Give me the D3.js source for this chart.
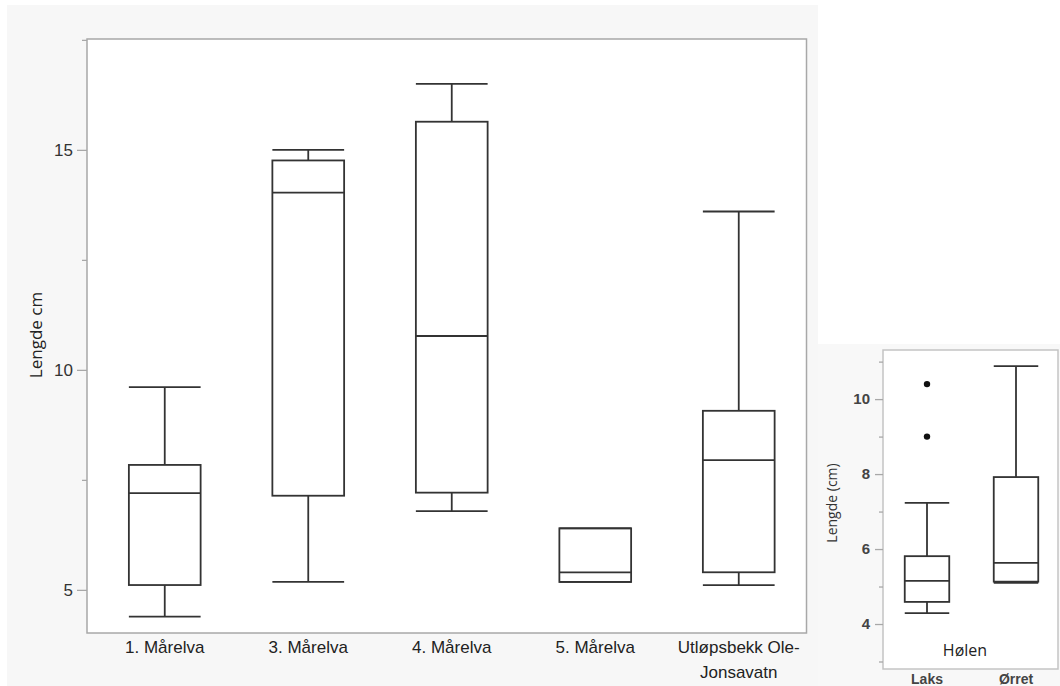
<!DOCTYPE html>
<html>
<head>
<meta charset="utf-8">
<script src="https://cdn.jsdelivr.net/npm/d3@7"></script>
<style>
  body { margin: 0; background: #fff; }
  svg { display: block; font-family: "Open Sans", "Noto Sans", sans-serif; }
  .frame { fill: #fff; stroke: #a8a8a8; stroke-width: 1.5; }
  .box line, .box rect { stroke: #333; stroke-width: 1.8; fill: none; }
  .yax path { display: none; }
  .yax line { stroke: #a8a8a8; stroke-width: 1.3; }
  .yax text { fill: #333; }
  .xax path, .xax line { display: none; }
  .xax text { fill: #222; }
</style>
</head>
<body>
<svg id="chart" width="1060" height="686"></svg>
<script>
// main chart data (Lengde cm per site)
var sites = ["1. Mårelva", "3. Mårelva", "4. Mårelva", "5. Mårelva", "Utløpsbekk Ole-Jonsavatn"];
var siteMin = [4.39, 5.18, 6.79, 5.18, 5.11];
var siteQ1  = [5.11, 7.14, 7.21, 5.18, 5.40];
var siteMed = [7.20, 14.03, 10.77, 5.40, 7.95];
var siteQ3  = [7.84, 14.76, 15.64, 6.40, 9.07];
var siteMax = [9.61, 15.00, 16.50, 6.40, 13.60];
var mainTicks = [5, 10, 15];
var mainMinor = [7.5, 12.5, 17.5];

// small chart data (Hølen)
var species = ["Laks", "Ørret"];
var fishMin = [4.29, 5.10];
var fishQ1  = [4.59, 5.13];
var fishMed = [5.15, 5.63];
var fishQ3  = [5.81, 7.92];
var fishMax = [7.23, 10.88];
var fishOut = [[10.4, 9.0], []];
var smallTicks = [4, 6, 8, 10];
var smallMinor = [3, 5, 7, 9, 11];

var svg = d3.select("#chart");

function drawBoxes(g, cats, mins, q1s, meds, q3s, maxs, x, y) {
  var bw = x.bandwidth() * 0.5;
  var boxes = g.selectAll("g.box")
      .data(cats)
      .enter()
      .append("g")
      .attr("class", "box")
      .attr("transform", function(d) { return "translate(" + (x(d) + x.bandwidth()/2) + ",0)"; });
  // whiskers
  boxes.append("line")
      .attr("x1", 0).attr("x2", 0)
      .attr("y1", function(d,i) { return y(maxs[i]); })
      .attr("y2", function(d,i) { return y(q3s[i]); });
  boxes.append("line")
      .attr("x1", 0).attr("x2", 0)
      .attr("y1", function(d,i) { return y(q1s[i]); })
      .attr("y2", function(d,i) { return y(mins[i]); });
  // caps
  boxes.append("line")
      .attr("x1", -bw/2).attr("x2", bw/2)
      .attr("y1", function(d,i) { return y(maxs[i]); })
      .attr("y2", function(d,i) { return y(maxs[i]); });
  boxes.append("line")
      .attr("x1", -bw/2).attr("x2", bw/2)
      .attr("y1", function(d,i) { return y(mins[i]); })
      .attr("y2", function(d,i) { return y(mins[i]); });
  boxes.append("rect")
      .attr("x", -bw/2)
      .attr("width", bw)
      .attr("y", function(d,i) { return y(q3s[i]); })
      .attr("height", function(d,i) { return y(q1s[i]) - y(q3s[i]); });
  boxes.append("line")
      .attr("x1", -bw/2).attr("x2", bw/2)
      .attr("y1", function(d,i) { return y(meds[i]); })
      .attr("y2", function(d,i) { return y(meds[i]); });
  return boxes;
}

/////////////////////////////////////////////////////////////////////////////
// main panel
svg.append("rect")
    .attr("x", 7).attr("y", 5)
    .attr("width", 811).attr("height", 681)
    .style("fill", "#f7f7f7");

var mTop = 39, mBottom = 633, mLeft = 87, mRight = 806.5;
var y1 = d3.scaleLinear().domain([4.02, 17.52]).range([mBottom, mTop]);
var x1 = d3.scaleBand().domain(sites).range([93, 810.5]);

svg.append("rect")
    .attr("class", "frame")
    .attr("x", mLeft).attr("y", mTop)
    .attr("width", mRight - mLeft).attr("height", mBottom - mTop);

svg.append("g")
    .attr("class", "yax")
    .attr("transform", "translate(" + mLeft + ",0)")
    .call(d3.axisLeft(y1).tickValues(mainMinor).tickSize(5).tickFormat(""));
svg.append("g")
    .attr("class", "yax")
    .attr("transform", "translate(" + mLeft + ",0)")
    .call(d3.axisLeft(y1).tickValues(mainTicks).tickSize(10).tickPadding(4))
    .selectAll("text")
    .style("font-size", "17px");

var xg = svg.append("g")
    .attr("class", "xax")
    .attr("transform", "translate(0," + mBottom + ")")
    .call(d3.axisBottom(x1).tickSize(0).tickPadding(8));
xg.selectAll("text")
    .style("font-size", "17px")
    .each(function(d) {
      var parts = d.split(/(?<=-)/);
      if (parts.length > 1) {
        var t = d3.select(this).text(null);
        parts.forEach(function(p, i) {
          t.append("tspan").attr("x", 0).attr("dy", i == 0 ? "0.71em" : "1.45em").text(p);
        });
        t.attr("dy", null);
      }
    });

svg.append("text")
    .attr("transform", "translate(42,335) rotate(-90)")
    .style("text-anchor", "middle")
    .style("font-size", "17px")
    .style("fill", "#222")
    .text("Lengde cm");

drawBoxes(svg.append("g"), sites, siteMin, siteQ1, siteMed, siteQ3, siteMax, x1, y1);

/////////////////////////////////////////////////////////////////////////////
// small panel
svg.append("rect")
    .attr("x", 818).attr("y", 344)
    .attr("width", 242).attr("height", 342)
    .style("fill", "#f8f8f8");

var sTop = 350, sBottom = 669, sLeft = 883, sRight = 1058;
var y2 = d3.scaleLinear().domain([2.8, 11.31]).range([sBottom, sTop]);
var x2 = d3.scaleBand().domain(species).range([882.5, 1060.5]);

svg.append("rect")
    .attr("class", "frame")
    .attr("x", sLeft).attr("y", sTop)
    .attr("width", sRight - sLeft).attr("height", sBottom - sTop)
    .style("stroke", "#c4c4c4");

svg.append("g")
    .attr("class", "yax")
    .attr("transform", "translate(" + sLeft + ",0)")
    .call(d3.axisLeft(y2).tickValues(smallMinor).tickSize(4).tickFormat(""));
svg.append("g")
    .attr("class", "yax")
    .attr("transform", "translate(" + sLeft + ",0)")
    .call(d3.axisLeft(y2).tickValues(smallTicks).tickSize(8).tickPadding(5))
    .selectAll("text")
    .style("font-size", "15px")
    .style("font-weight", "600")
    .style("fill", "#444");

svg.append("g")
    .attr("class", "xax")
    .attr("transform", "translate(0," + sBottom + ")")
    .call(d3.axisBottom(x2).tickSize(0).tickPadding(5))
    .selectAll("text")
    .style("font-size", "14px")
    .style("font-weight", "600")
    .style("fill", "#444");

svg.append("text")
    .attr("transform", "translate(837,503) rotate(-90)")
    .style("text-anchor", "middle")
    .style("font-size", "14px")
    .style("fill", "#333")
    .text("Lengde (cm)");

svg.append("text")
    .attr("x", 965).attr("y", 656)
    .style("text-anchor", "middle")
    .style("font-size", "16px")
    .style("fill", "#222")
    .text("Hølen");

var sb = drawBoxes(svg.append("g"), species, fishMin, fishQ1, fishMed, fishQ3, fishMax, x2, y2);
sb.selectAll("circle")
    .data(function(d,i) { return fishOut[i]; })
    .enter()
    .append("circle")
    .attr("cx", 0)
    .attr("cy", function(d) { return y2(d); })
    .attr("r", 3.2)
    .style("fill", "#111");
</script>
</body>
</html>
